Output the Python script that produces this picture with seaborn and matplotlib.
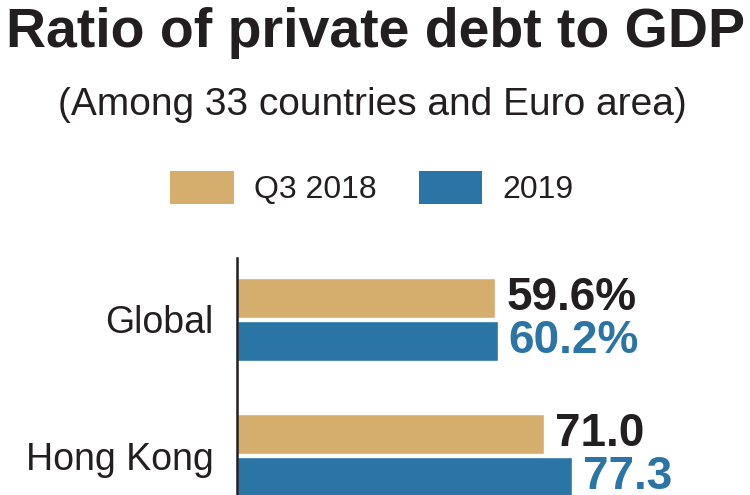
import pandas as pd
import matplotlib.pyplot as plt
import seaborn as sns
from matplotlib.patches import Patch

categories = ['Global', 'Hong Kong']
periods = ['Q3 2018', '2019']
q3_2018 = [59.6, 71.0]
y2019 = [60.2, 77.3]
labels_2018 = ['59.6%', '71.0']
labels_2019 = ['60.2%', '77.3']

TAN = '#D5AD6D'
BLUE = '#2B74A6'
INK = '#231F20'

sns.set_style('white')
plt.rcParams['font.family'] = ['Liberation Sans', 'DejaVu Sans']

df = pd.DataFrame({
    'country': categories * 2,
    'ratio': q3_2018 + y2019,
    'period': [periods[0]] * len(categories) + [periods[1]] * len(categories),
})

fig = plt.figure(figsize=(7.5, 4.95), dpi=100)
ax = fig.add_axes([237 / 750, 0, 1 - 237 / 750, 1 - 258 / 495])

sns.barplot(data=df, y='country', x='ratio', hue='period', palette=[TAN, BLUE],
            orient='h', width=0.624, gap=0.06, saturation=1, legend=False, ax=ax)

# value labels at bar ends
ax.bar_label(ax.containers[0], labels=labels_2018, padding=8, fontsize=33,
             fontweight='bold', color=INK)
ax.bar_label(ax.containers[1], labels=labels_2019, padding=8, fontsize=33,
             fontweight='bold', color=BLUE)

ax.set_xlim(0, 118.5)
ax.set_ylim(1.29, -0.45)
ax.set_xlabel('')
ax.set_ylabel('')
ax.set_xticks([])
ax.tick_params(axis='y', length=0, pad=17, labelsize=27, labelcolor=INK)
for s in ['top', 'right', 'bottom']:
    ax.spines[s].set_visible(False)
ax.spines['left'].set_color(INK)
ax.spines['left'].set_linewidth(1.8)

# title and subtitle
fig.text(0.5, 1 - 47 / 495, 'Ratio of private debt to GDP', ha='center', va='baseline',
         fontsize=40, fontweight='bold', color=INK)
fig.text(0.497, 1 - 115 / 495, '(Among 33 countries and Euro area)', ha='center',
         va='baseline', fontsize=28, color=INK)

# legend
handles = [Patch(facecolor=TAN, edgecolor='none'), Patch(facecolor=BLUE, edgecolor='none')]
fig.legend(handles, periods, loc='center', bbox_to_anchor=(372 / 750, 1 - 188 / 495),
           ncol=2, frameon=False, fontsize=23, handlelength=2.0, handleheight=1.2,
           handletextpad=0.63, columnspacing=1.3, labelcolor=INK)

fig.savefig('out.png', dpi=100)
